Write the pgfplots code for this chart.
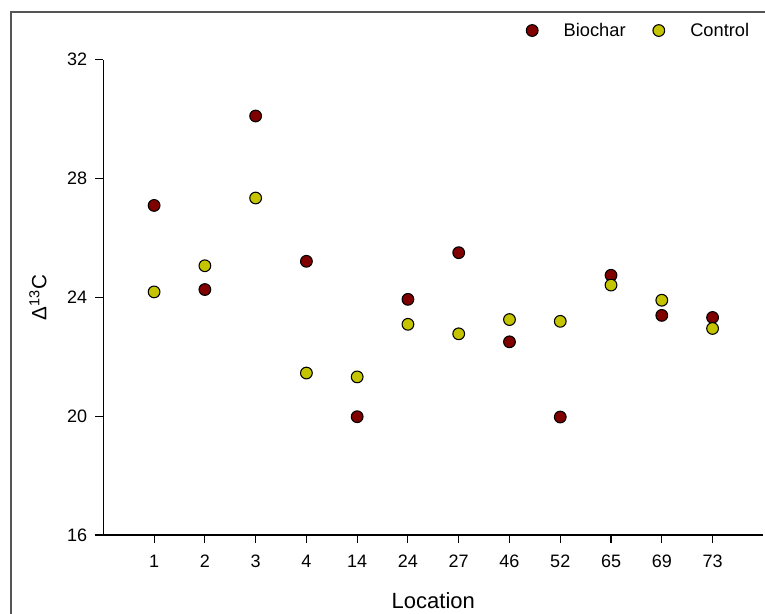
\documentclass[border=0pt]{standalone}
\usepackage{pgfplots}
\pgfplotsset{compat=1.18}
\usepackage{fontspec}
\setmainfont{Liberation Sans}

\definecolor{biochar}{RGB}{128,0,0}
\definecolor{control}{RGB}{196,196,0}
\definecolor{framegray}{RGB}{85,85,85}

\begin{document}
\begin{tikzpicture}[x=0.75pt,y=0.75pt]
\begin{axis}[
    at={(77.5pt,59.25pt)}, anchor=south west,
    scale only axis, width=495pt, height=356.6pt,
    xmin=0, xmax=13, ymin=16, ymax=32,
    axis x line*=bottom, axis y line*=left,
    axis line style={-, line width=1pt, black},
    xtick={1,...,12},
    xticklabels={1,2,3,4,14,24,27,46,52,65,69,73},
    ytick={16,20,24,28,32},
    tick align=outside, major tick length=6pt,
    tick style={black, line width=0.8pt},
    xticklabel style={font=\fontsize{13.5}{16}\selectfont, inner sep=0pt, yshift=-9pt},
    yticklabel style={font=\fontsize{13.5}{16}\selectfont, inner sep=0pt, xshift=-6pt},
    /pgf/number format/assume math mode=true,
    xlabel={Location}, ylabel={Δ\textsuperscript{13}C},
    every axis x label/.style={at={(axis description cs:0.5,-0.138)}, anchor=center,
        font=\fontsize{16.5}{19}\selectfont},
    every axis y label/.style={at={(axis description cs:-0.099,0.5)}, rotate=90, anchor=center,
        font=\fontsize{15.5}{18}\selectfont},
    legend columns=2,
    legend image code/.code={\draw[#1] plot coordinates {(0pt,0pt)};},
    legend style={at={(axis description cs:0.6405,1.061)}, anchor=west,
        draw=none, fill=none, inner sep=0pt, nodes={inner sep=0pt},
        font=\fontsize{13.7}{16}\selectfont,
        /tikz/every odd column/.append style={column sep=19.2pt},
        /tikz/every even column/.append style={column sep=20.5pt}},
    clip=false,
]
\addplot[only marks, mark=*, mark size=4.4pt, mark options={fill=biochar, draw=black, line width=0.8pt}]
coordinates {
(1,27.09)(2,24.26)(3,30.10)(4,25.21)(5,19.98)(6,23.93)
(7,25.50)(8,22.50)(9,19.97)(10,24.74)(11,23.39)(12,23.32)
};
\addlegendentry{Biochar}
\addplot[only marks, mark=*, mark size=4.4pt, mark options={fill=control, draw=black, line width=0.8pt}]
coordinates {
(1,24.18)(2,25.06)(3,27.34)(4,21.45)(5,21.32)(6,23.09)
(7,22.77)(8,23.25)(9,23.19)(10,24.41)(11,23.90)(12,22.95)
};
\addlegendentry{Control}
\end{axis}
\draw[framegray, line width=1.1pt] (11,-20) -- (11,602) -- (790,602);
\pgfresetboundingbox
\path[use as bounding box] (0,0) rectangle (765,614);
\end{tikzpicture}
\end{document}
